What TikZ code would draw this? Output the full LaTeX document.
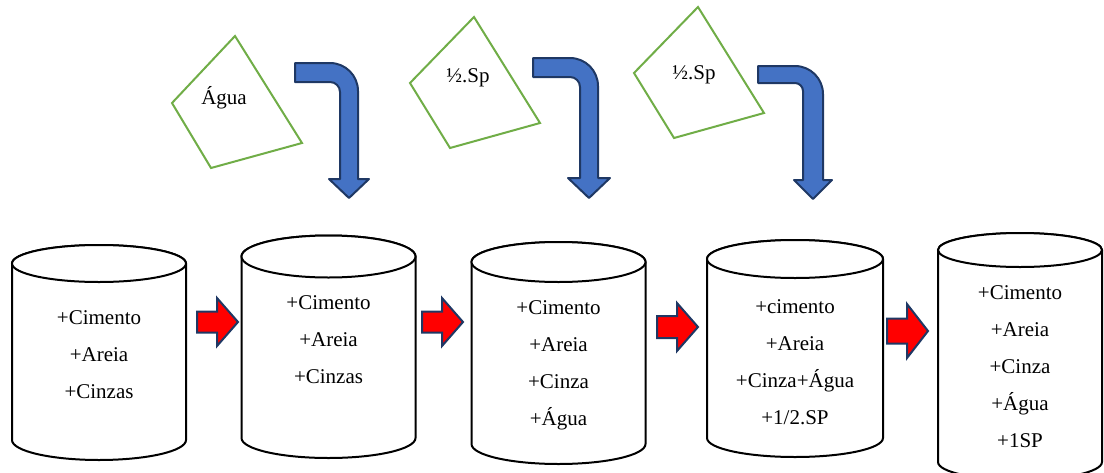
\documentclass[tikz,border=0pt]{standalone}
\usepackage{fontspec}
\setmainfont{Liberation Serif}
\definecolor{qgreen}{HTML}{70AD47}
\definecolor{ablue}{HTML}{4472C4}
\definecolor{anavy}{HTML}{1F3864}
\tikzset{
  cylline/.style={draw=black, line width=2pt, fill=white},
  quadline/.style={draw=qgreen, line width=2pt},
  bluearrow/.style={draw=anavy, fill=ablue, line width=2pt, line join=round},
  redarrow/.style={draw=anavy, fill=red, line width=2pt, line join=miter},
  txt/.style={font=\fontsize{21}{37}\selectfont, align=center, inner sep=0pt}
}
% cylinder: name, cx, rx, top-centre y, top ry, bottom-centre y, bottom ry
\newcommand\mycyl[7]{%
  \draw[cylline] ({#2-#3},#4) -- ({#2-#3},#6)
     arc[start angle=180, end angle=360, x radius=#3pt, y radius=#7pt]
     -- ({#2+#3},#4)
     arc[start angle=0, end angle=180, x radius=#3pt, y radius=#5pt] -- cycle;
  \draw[cylline] (#2,#4) ellipse[x radius=#3pt, y radius=#5pt];
  \coordinate (#1) at (#2,#4);
}
% red block arrow: name, x0, xhead, xtip, yc, half shaft, half head
\newcommand\redarr[7]{%
  \draw[redarrow] (#2,{#5-#6}) -- (#3,{#5-#6}) -- (#3,{#5-#7}) -- (#4,#5)
     -- (#3,{#5+#7}) -- (#3,{#5+#6}) -- (#2,{#5+#6}) -- cycle;
  \coordinate (#1) at (#4,#5);
}
% blue bent arrow: name, x0, ytop, ybot, xin, xout, yhead, ytip, half head
\newcommand\bluearr[9]{%
  \pgfmathsetmacro\Rout{28}%
  \pgfmathsetmacro\Rin{28-(#6-#5)}%
  \pgfmathsetmacro\xmid{(#5+#6)/2}%
  \draw[bluearrow] (#2,#3) -- ({#6-\Rout},#3)
     .. controls ({#6-\Rout+0.552*\Rout},#3) and (#6,{#3+\Rout-0.552*\Rout}) .. (#6,{#3+\Rout})
     -- (#6,#7) -- ({\xmid+#9},#7) -- (\xmid,#8) -- ({\xmid-#9},#7) -- (#5,#7)
     -- (#5,{#4+\Rin})
     .. controls (#5,{#4+\Rin-0.552*\Rin}) and ({#5-\Rin+0.552*\Rin},#4) .. ({#5-\Rin},#4)
     -- (#2,#4) -- cycle;
  \coordinate (#1) at (\xmid,#8);
}
\begin{document}
\begin{tikzpicture}[x=1pt, y=-1pt]
\useasboundingbox (0,0) rectangle (1104,472);

% green tilted boxes
\draw[quadline] (235,36) -- (302,143) -- (211,168) -- (172,103) -- cycle;
\node[txt] (q1) at (224,98) {Água};
\draw[quadline] (474,17) -- (540,123) -- (450,148) -- (410,83) -- cycle;
\node[txt] (q2) at (468,78) {½.Sp};
\draw[quadline] (698,7) -- (764,113) -- (674,138) -- (634,73) -- cycle;
\node[txt] (q3) at (694,75) {½.Sp};

% blue bent arrows
\bluearr{b1}{295}{63}{82}{340}{358}{179}{198}{20}
\bluearr{b2}{533}{58}{77}{580}{598}{178}{198}{21}
\bluearr{b3}{758}{66}{83}{803}{823}{180}{199}{19}

% cylinders
\mycyl{c1}{99}{87}{263.5}{18.5}{440}{20}
\node[txt] (t1) at (99,355) {+Cimento\\+Areia\\+Cinzas};
\mycyl{c2}{328.5}{87}{256.5}{21}{438}{20}
\node[txt] (t2) at (328.5,340) {+Cimento\\+Areia\\+Cinzas};
\mycyl{c3}{558.5}{87}{262}{20}{444}{20}
\node[txt] (t3) at (558.5,365) {+Cimento\\+Areia\\+Cinza\\+Água};
\mycyl{c4}{795}{88}{259}{19}{438}{19}
\node[txt] (t4) at (795,362) {+cimento\\+Areia\\+Cinza+Água\\+1/2.SP};
\mycyl{c5}{1020}{82}{250}{17}{462}{18}
\node[txt] (t5) at (1020,366.5) {+Cimento\\+Areia\\+Cinza\\+Água\\+1SP};

% red arrows between the cylinders
\redarr{r1}{197}{217}{238}{322}{10.5}{24}
\redarr{r2}{422}{442}{463}{322}{10.5}{24}
\redarr{r3}{657}{677}{698}{327}{11}{24}
\redarr{r4}{887}{907}{928}{331}{12.5}{27}
\end{tikzpicture}
\end{document}
